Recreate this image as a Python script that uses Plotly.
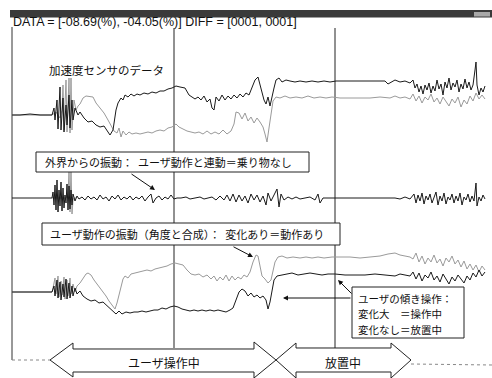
import plotly.graph_objects as go

W, H = 492, 378

# Sampled channels: (time [s], level [counts]) pairs.
# Upper pair: acceleration sensor, two axes.
top_k = [(0, 0), (0.8, 0), (1.8, 1), (2.8, 0), (3.6, 0), (4.0, 0), (4.2, 7), (4.3, -5), (4.5, 15), (4.6, -14),
         (4.8, 28), (4.9, -15), (5.1, 17), (5.2, -17), (5.4, 10), (5.5, -10), (5.7, 20), (5.8, -13), (6.0, 15),
         (6.1, -5), (6.3, 7), (6.6, 0), (6.8, 3), (7.2, -3), (7.6, -7), (8.0, -6), (8.4, -10), (8.8, -12),
         (9.2, -11), (9.5, -16), (9.8, -20), (10.1, -15), (10.4, 5), (10.6, 12), (10.9, 17), (11.1, 15),
         (11.3, 20), (11.6, 18), (11.9, 21), (12.2, 19), (12.5, 21), (12.8, 20), (13.2, 22), (13.6, 21),
         (14.0, 23), (14.4, 22), (14.8, 24), (15.2, 24), (15.6, 26), (16.0, 27), (16.4, 29), (16.8, 28),
         (17.3, 27), (17.7, 20), (18.0, 18), (18.3, 16), (18.6, 18), (18.9, 15), (19.2, 19), (19.5, 13),
         (19.8, 16), (20.0, 7), (20.2, 5), (20.4, 18), (20.7, 14), (21.0, 20), (21.3, 15), (21.6, 19),
         (21.9, 16), (22.2, 20), (22.5, 17), (22.8, 21), (23.1, 18), (23.4, 22), (23.7, 20), (24.0, 27),
         (24.3, 35), (24.6, 38), (24.9, 27), (25.2, 15), (25.4, 11), (25.6, 18), (25.8, 9), (26.0, 20),
         (26.2, 27), (26.4, 35), (26.7, 37), (27.0, 33), (27.4, 35), (27.8, 34), (28.3, 33), (28.8, 34),
         (29.4, 33), (30.0, 34), (30.6, 33), (31.2, 34), (31.8, 33), (32.4, 34), (33.3, 34), (34.3, 34),
         (35.3, 34), (36.3, 34), (37.3, 34), (37.6, 31), (37.9, 33), (38.3, 35), (38.8, 33), (39.3, 34),
         (39.8, 32), (40.1, 35), (40.3, 27), (40.5, 31), (40.7, 23), (40.9, 29), (41.1, 21), (41.3, 30),
         (41.5, 25), (41.7, 32), (41.9, 22), (42.1, 29), (42.3, 24), (42.5, 35), (42.7, 26), (42.9, 31),
         (43.1, 20), (43.3, 33), (43.5, 27), (43.7, 37), (43.9, 25), (44.1, 32), (44.3, 28), (44.5, 35),
         (44.7, 23), (44.9, 31), (45.1, 26), (45.3, 36), (45.5, 27), (45.7, 33), (45.9, 25), (46.1, 30),
         (46.3, 45), (46.4, 53), (46.5, 30), (46.7, 20), (46.9, 27), (47.1, 23), (47.3, 29)]

top_g = [(0, 0), (4.0, 0), (4.4, 3), (4.8, -3), (5.0, 5), (5.1, 30), (5.2, -15), (5.4, 35), (5.5, -17),
         (5.6, 25), (5.7, 37), (5.8, -18), (5.9, 37), (6.0, -15), (6.2, 15), (6.4, 5), (6.6, 9), (6.8, 11),
         (7.1, 17), (7.4, 19), (7.8, 18), (8.1, 18), (8.4, 12), (8.8, 7), (9.2, 2), (9.6, -5), (9.9, -11),
         (10.2, -16), (10.5, -18), (10.7, -13), (10.9, -22), (11.1, -16), (11.4, -20), (11.7, -17),
         (12.0, -19), (12.4, -18), (12.8, -19), (13.2, -18), (13.6, -17), (14.0, -18), (14.4, -16),
         (14.8, -15), (15.2, -16), (15.6, -13), (16.0, -12), (16.4, -9), (16.7, -12), (17.1, -14),
         (17.5, -16), (17.9, -17), (18.3, -18), (18.7, -17), (19.1, -19), (19.5, -16), (19.9, -19),
         (20.3, -17), (20.7, -19), (21.1, -15), (21.5, -19), (21.9, -16), (22.2, -9), (22.4, 3), (22.7, 2),
         (23.0, -4), (23.3, 2), (23.6, -6), (23.9, -2), (24.2, -8), (24.5, -3), (24.8, -7), (25.1, -12),
         (25.3, -19), (25.5, -27), (25.7, -13), (25.9, 3), (26.1, 14), (26.4, 18), (26.8, 17), (27.3, 19),
         (27.8, 17), (28.4, 18), (29.0, 17), (29.6, 19), (30.2, 17), (30.8, 18), (31.4, 17), (32.0, 18),
         (32.8, 17), (33.8, 17), (34.8, 17), (35.8, 17), (36.8, 18), (37.8, 17), (38.3, 19), (38.8, 17),
         (39.3, 18), (39.8, 16), (40.1, 21), (40.4, 14), (40.7, 19), (41.0, 12), (41.3, 18), (41.6, 15),
         (41.9, 21), (42.2, 13), (42.5, 17), (42.8, 11), (43.1, 18), (43.4, 14), (43.7, 9), (44.0, 16),
         (44.3, 12), (44.6, 18), (44.9, 8), (45.2, 15), (45.5, 11), (45.8, 19), (46.1, 14), (46.4, 22),
         (46.7, 16), (47.0, 20), (47.3, 16)]

# Middle: external vibration component.
mid_k = [(0, 0), (1.8, 0), (4.0, 0), (4.1, 6), (4.2, -7), (4.3, 13), (4.4, -12), (4.5, 18), (4.6, -14),
         (4.7, 8), (4.8, -8), (4.9, 16), (5.0, -13), (5.1, 10), (5.2, -10), (5.3, 3), (5.4, -5), (5.5, 14),
         (5.6, -12), (5.7, 12), (5.8, -11), (5.9, 8), (6.0, -7), (6.1, 4), (6.3, -3), (6.5, 2), (6.7, -1),
         (7.0, 1), (7.3, -2), (7.6, 2), (7.9, -1), (8.2, 1), (8.5, -2), (8.8, 3), (9.1, -1), (9.4, 1),
         (9.7, -3), (10.0, 2), (10.3, -1), (10.6, 3), (10.9, -2), (11.2, 1), (11.5, -1), (11.8, 2),
         (12.1, -2), (12.4, 1), (12.7, -1), (13.0, 2), (13.3, -3), (13.6, 1), (13.9, 4), (14.1, -5),
         (14.4, 0), (14.7, 2), (15.0, -2), (15.3, 1), (15.6, -1), (15.9, 3), (16.2, -1), (16.5, 0),
         (16.9, 0), (17.4, 1), (17.8, -1), (18.3, 0), (18.8, 1), (19.2, -1), (19.6, 0), (20.0, 1),
         (20.4, -2), (20.8, 2), (21.2, -2), (21.5, 3), (21.8, -3), (22.1, 4), (22.4, -4), (22.7, 3),
         (23.0, -3), (23.3, 2), (23.6, -5), (23.9, 4), (24.2, -2), (24.5, 3), (24.8, -4), (25.1, 2),
         (25.4, -7), (25.6, 5), (25.9, -3), (26.2, 3), (26.5, 9), (26.7, -9), (26.9, 4), (27.2, -2),
         (27.6, 1), (28.0, -1), (28.4, 1), (28.8, -1), (29.3, 0), (29.8, 1), (30.3, -2), (30.6, 4),
         (30.8, -5), (31.1, 0), (31.8, 0), (32.8, 0), (34.8, 0), (36.8, 0), (38.3, 0), (38.8, -1),
         (39.3, 1), (39.8, -1), (40.2, 4), (40.4, -5), (40.6, 3), (40.8, -3), (41.0, 5), (41.2, -6),
         (41.4, 2), (41.6, -2), (41.8, 4), (42.0, -5), (42.2, 1), (42.4, 6), (42.6, -7), (42.8, 2),
         (43.0, -3), (43.2, 5), (43.4, -6), (43.6, 1), (43.8, -2), (44.0, 4), (44.2, -5), (44.4, 2),
         (44.6, -3), (44.8, 5), (45.0, -7), (45.2, 1), (45.4, -2), (45.6, 4), (45.8, -4), (46.0, 2),
         (46.2, -3), (46.4, 15), (46.5, -8), (46.7, 1), (46.9, -3), (47.1, 3), (47.3, -1)]

mid_g = [(4.0, 0), (5.4, 0), (5.6, 4), (5.7, 26), (5.8, -14), (5.9, 30), (6.0, -16), (6.1, -2), (6.2, 0),
         (6.4, 0)]

# Lower pair: user motion (angle + composite).
bot_k = [(0, 0), (1.8, 0), (4.0, 0), (4.2, 6), (4.3, -4), (4.5, 12), (4.6, -6), (4.8, 10), (4.9, -8),
         (5.1, 8), (5.2, -5), (5.4, 13), (5.5, -7), (5.7, 9), (5.8, -6), (6.0, 6), (6.1, -4), (6.3, 4),
         (6.5, -2), (6.8, 1), (7.1, -4), (7.5, -7), (7.9, -9), (8.3, -8), (8.7, -11), (9.1, -10),
         (9.5, -14), (9.8, -16), (10.1, -20), (10.4, -22), (10.7, -19), (11.0, -22), (11.4, -20),
         (11.8, -21), (12.2, -20), (12.6, -20), (13.0, -19), (13.4, -20), (13.8, -19), (14.2, -18),
         (14.6, -18), (15.0, -16), (15.4, -17), (15.8, -15), (16.2, -14), (16.6, -15), (17.0, -17),
         (17.4, -18), (17.8, -19), (18.2, -18), (18.6, -19), (19.0, -18), (19.4, -19), (19.8, -18),
         (20.2, -19), (20.6, -18), (21.0, -19), (21.4, -20), (21.8, -18), (22.1, -16), (22.4, -8),
         (22.7, 0), (23.0, 3), (23.3, 1), (23.6, -4), (23.9, -1), (24.2, -5), (24.5, -3), (24.8, -6),
         (25.1, -4), (25.4, -8), (25.6, -17), (25.8, -10), (26.0, 2), (26.2, 12), (26.5, 16), (26.9, 17),
         (27.4, 18), (28.0, 19), (28.6, 17), (29.2, 18), (29.8, 19), (30.4, 18), (31.0, 17), (31.6, 18),
         (32.3, 18), (33.3, 17), (34.3, 17), (35.3, 17), (36.3, 18), (37.3, 17), (38.3, 16), (38.8, 18),
         (39.3, 17), (39.8, 16), (40.1, 20), (40.4, 13), (40.7, 19), (41.0, 11), (41.3, 17), (41.6, 14),
         (41.9, 20), (42.2, 12), (42.5, 16), (42.8, 10), (43.1, 18), (43.4, 13), (43.7, 8), (44.0, 15),
         (44.3, 11), (44.6, 17), (44.9, 13), (45.2, 9), (45.5, 16), (45.8, 12), (46.1, 19), (46.4, 15),
         (46.7, 22), (47.0, 16), (47.3, 20)]

bot_g = [(0, 0), (1.8, 0), (4.0, 0), (4.1, 4), (4.3, 14), (4.4, -2), (4.6, 16), (4.7, -5), (4.9, 11),
         (5.0, -3), (5.2, 15), (5.3, -7), (5.5, 12), (5.6, -4), (5.8, 14), (5.9, -2), (6.1, 8), (6.3, 0),
         (6.5, 6), (6.8, 9), (7.1, 14), (7.4, 18), (7.6, 19), (7.9, 17), (8.2, 12), (8.5, 8), (8.8, 5),
         (9.1, 0), (9.4, -4), (9.7, -9), (10.0, -13), (10.3, -17), (10.5, -11), (10.7, -3), (10.9, 6),
         (11.1, 13), (11.3, 16), (11.6, 14), (11.9, 18), (12.3, 19), (12.7, 20), (13.1, 21), (13.5, 22),
         (13.9, 21), (14.3, 23), (14.7, 24), (15.1, 25), (15.5, 26), (15.9, 28), (16.3, 29), (16.7, 28),
         (17.1, 27), (17.5, 22), (17.9, 18), (18.3, 17), (18.7, 18), (19.1, 15), (19.5, 17), (19.9, 13),
         (20.2, 16), (20.5, 11), (20.8, 15), (21.1, 12), (21.4, 17), (21.7, 11), (22.0, 16), (22.3, 12),
         (22.6, 15), (22.9, 13), (23.2, 17), (23.5, 15), (23.8, 20), (24.1, 30), (24.4, 37), (24.6, 36),
         (24.8, 26), (25.0, 16), (25.3, 13), (25.6, 9), (25.9, 12), (26.1, 20), (26.3, 30), (26.6, 35),
         (27.0, 36), (27.5, 34), (28.1, 35), (28.8, 34), (29.4, 35), (30.0, 34), (30.6, 35), (31.2, 34),
         (32.0, 35), (32.8, 35), (33.8, 35), (34.8, 34), (35.8, 35), (36.8, 36), (37.6, 38), (38.3, 39),
         (38.8, 37), (39.3, 36), (39.8, 35), (40.1, 33), (40.4, 39), (40.7, 30), (41.0, 36), (41.3, 28),
         (41.6, 34), (41.9, 30), (42.2, 37), (42.5, 29), (42.8, 33), (43.1, 26), (43.4, 34), (43.7, 30),
         (44.0, 36), (44.3, 28), (44.6, 32), (44.9, 25), (45.2, 31), (45.5, 23), (45.8, 28), (46.1, 22),
         (46.4, 27), (46.7, 20), (47.0, 26), (47.3, 22)]

# Event markers [s]
markers_t = [16.2, 32.3]

header = "DATA = [-08.69(%), -04.05(%)] DIFF = [0001, 0001]"
legend_lines = ["ユーザの傾き操作：", "変化大　＝操作中", "変化なし＝放置中"]

BLACK = "#1a1a1a"
GREY = "#9a9a9a"


def unzip(pairs):
    return [p[0] for p in pairs], [p[1] for p in pairs]


def X(px):
    return px / W


def Y(py):
    return 1 - py / H


fig = go.Figure()

series = [
    (top_g, "y", GREY), (top_k, "y", BLACK),
    (mid_g, "y2", GREY), (mid_k, "y2", BLACK),
    (bot_g, "y3", GREY), (bot_k, "y3", BLACK),
]
for pairs, yax, col in series:
    t, v = unzip(pairs)
    fig.add_trace(go.Scatter(x=t, y=v, yaxis=yax, mode="lines", hoverinfo="skip",
                             line=dict(color=col, width=1)))

shapes = []
# title strip
shapes.append(dict(type="rect", xref="paper", yref="paper", x0=X(10), x1=X(492), y0=Y(17.5), y1=Y(10),
                   fillcolor="#3a3a3a", line=dict(width=0), layer="below"))
shapes.append(dict(type="rect", xref="paper", yref="paper", x0=X(474), x1=X(490), y0=Y(16.5), y1=Y(12),
                   fillcolor="#a8a8a8", line=dict(width=0), layer="below"))
# left frame and bottom baseline pieces
shapes.append(dict(type="line", xref="paper", yref="paper", x0=X(12), x1=X(12), y0=Y(27), y1=Y(360),
                   line=dict(color="#333", width=1), layer="below"))
shapes.append(dict(type="line", xref="paper", yref="paper", x0=X(12), x1=X(50), y0=Y(360), y1=Y(360),
                   line=dict(color="#888", width=1, dash="dot"), layer="below"))
shapes.append(dict(type="line", xref="paper", yref="paper", x0=X(411), x1=X(492), y0=Y(364), y1=Y(365),
                   line=dict(color="#888", width=1, dash="dot"), layer="below"))
# event markers
for tm in markers_t:
    shapes.append(dict(type="line", xref="x", yref="paper", x0=tm, x1=tm, y0=Y(28), y1=Y(348),
                       line=dict(color="#222", width=1), layer="below"))

# caption boxes
for (x0, y0, x1, y1) in [(36, 152, 309, 172), (42, 223, 340, 245), (352, 287, 464, 338)]:
    shapes.append(dict(type="rect", xref="paper", yref="paper", x0=X(x0), x1=X(x1), y0=Y(y1), y1=Y(y0),
                       fillcolor="white", line=dict(color="#222", width=1), layer="above"))


def path(pts):
    return "M " + " L ".join(f"{X(a):.5f},{Y(b):.5f}" for a, b in pts) + " Z"


arrow1 = [(50, 360), (73, 343), (73, 349), (254, 349), (254, 342), (276, 360), (254, 378), (254, 372),
          (73, 372), (73, 377)]
arrow2 = [(276, 360), (296, 343), (296, 348), (391, 348), (391, 343), (411, 360), (391, 378), (391, 372),
          (296, 372), (296, 378)]
for pts in (arrow1, arrow2):
    shapes.append(dict(type="path", xref="paper", yref="paper", path=path(pts),
                       line=dict(color="#222", width=1), fillcolor="rgba(0,0,0,0)", layer="above"))

JP = "Noto Sans CJK JP"
ann = []


def text(px, py, s, size=11, anchor="left", fam=JP):
    ann.append(dict(xref="paper", yref="paper", x=X(px), y=Y(py), text=s, showarrow=False,
                    xanchor=anchor, yanchor="middle", align="left",
                    font=dict(family=fam, size=size, color="#111")))


text(11, 22, header, size=12.5, fam="Liberation Sans Narrow, Liberation Sans, Arial")
text(47, 70, "加速度センサのデータ", size=11.5)
text(43, 162, "外界からの振動：  ユーザ動作と連動＝乗り物なし", size=11)
text(48, 234, "ユーザ動作の振動（角度と合成）：  変化あり＝動作あり", size=11)
for i, line in enumerate(legend_lines):
    text(356, 298 + 15.5 * i, line, size=10.5)
text(164, 362, "ユーザ操作中", size=12, anchor="center")
text(343, 362, "放置中", size=12, anchor="center")


def pointer(hx, hy, tx, ty):
    ann.append(dict(xref="paper", yref="paper", x=X(hx), y=Y(hy), ax=tx - hx, ay=ty - hy, text="",
                    showarrow=True, arrowhead=2, arrowsize=1, arrowwidth=1, arrowcolor="#111"))


pointer(155, 190, 130, 173)
pointer(253, 257, 232, 246)
pointer(338, 280, 353, 295)
pointer(283, 298, 352, 298)

ax_common = dict(visible=False, fixedrange=True)
fig.update_layout(
    width=W, height=H, margin=dict(l=0, r=0, t=0, b=0),
    paper_bgcolor="white", plot_bgcolor="white", showlegend=False,
    xaxis=dict(range=[-1.2, 48.0], **ax_common),
    yaxis=dict(range=[-263, 115], domain=[0, 1], **ax_common),
    yaxis2=dict(range=[-180, 198], overlaying="y", **ax_common),
    yaxis3=dict(range=[-86, 292], overlaying="y", **ax_common),
    shapes=shapes, annotations=ann,
)

fig.write_html("out.html")
